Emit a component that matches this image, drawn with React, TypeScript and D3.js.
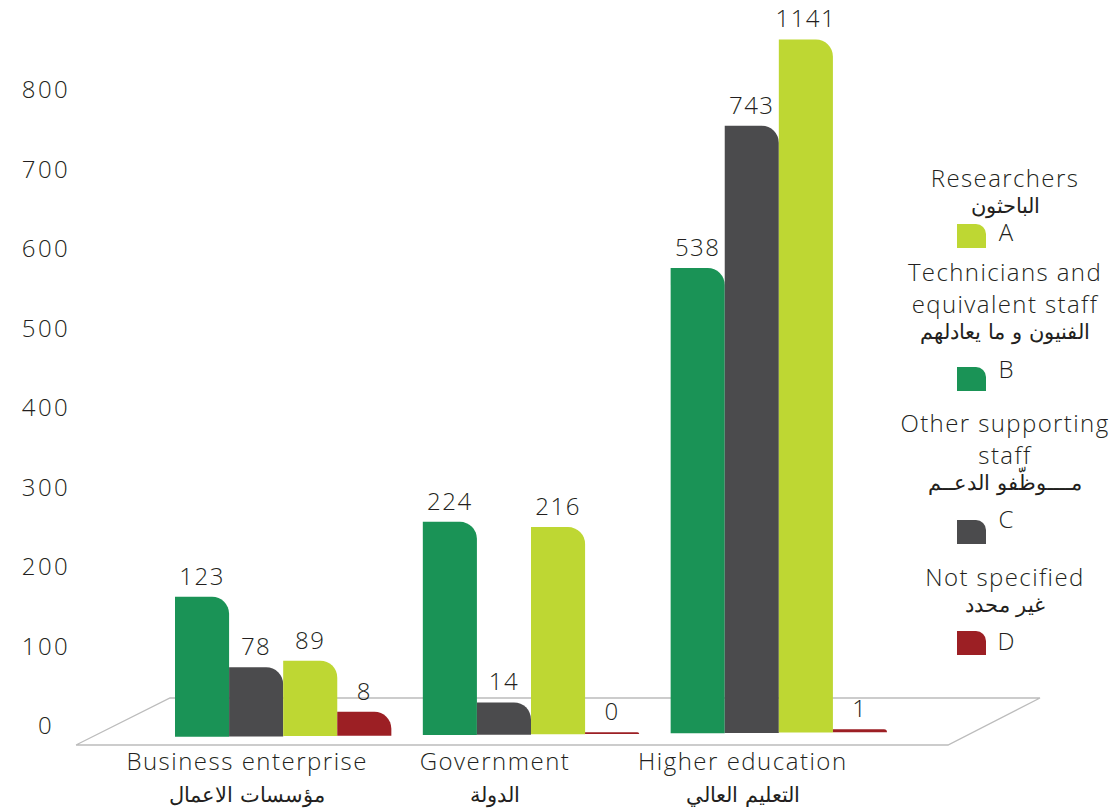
import React from "react";
import * as d3 from "d3";

// ---------- data ----------
const categories = ["Business enterprise", "Government", "Higher education"];
const categoriesAr = ["مؤسسات الاعمال", "الدولة", "التعليم العالي"];
// order of bars inside each group (left to right)
const seriesKeys = ["B", "C", "A", "D"];
const researchersA = [89, 216, 1141];
const techniciansB = [123, 224, 538];
const supportC = [78, 14, 743];
const notSpecifiedD = [8, 0, 1];
const yTicks = [0, 100, 200, 300, 400, 500, 600, 700, 800];

const legendKeys = ["A", "B", "C", "D"];
const legendEn = [["Researchers"], ["Technicians and", "equivalent staff"], ["Other supporting", "staff"], ["Not specified"]];
const legendAr = ["الباحثون", "الفنيون و ما يعادلهم", "مــــوظّفو الدعــم", "غير محدد"];

const colors: Record<string, string> = { A: "#bed733", B: "#1a9356", C: "#4b4b4d", D: "#9c1f24" };
const valuesByKey: Record<string, number[]> = { A: researchersA, B: techniciansB, C: supportC, D: notSpecifiedD };

// bar height calibration (the original infographic bars are not drawn to the axis)
const heightKnots = [0, 10, 90, 125, 220, 540, 750, 1150];
const heightPx = [0, 30, 76, 144, 210, 467, 612, 695];

const TEXT = "#231f20";
const FONT = "'Open Sans', 'DejaVu Sans', 'Noto Sans', sans-serif";
const FONT_AR = "'DejaVu Sans', 'Noto Sans', sans-serif";

function barPath(x: number, y: number, w: number, h: number, r: number) {
  const rr = Math.min(r, h, w);
  return `M${x},${y + h}V${y}H${x + w - rr}A${rr},${rr} 0 0 1 ${x + w},${y + rr}V${y + h}Z`;
}

export default function App() {
  const W = 1117, H = 811;
  const yAxis = d3.scaleLinear().domain([0, 800]).range([728, 92]);
  const barH = d3.scaleLinear().domain(heightKnots).range(heightPx);
  const x0 = d3.scaleBand<string>().domain(categories).range([175, 887]).paddingInner(0.127).paddingOuter(0);
  const x1 = d3.scaleBand<string>().domain(seriesKeys).range([0, x0.bandwidth()]).padding(0);
  const baseAt = d3.scaleLinear().domain([175, 887]).range([737, 732]);

  const floor = d3.line()([[76, 745], [948, 745], [1040, 698], [170, 698], [76, 745]]);

  const legendLayout = [
    { y: 187, swatch: 224, letter: 241 },
    { y: 281, swatch: 367, letter: 378 },
    { y: 432, swatch: 520, letter: 528 },
    { y: 586, swatch: 631, letter: 650 },
  ];

  return (
    <svg width={W} height={H} style={{ display: "block", position: "absolute", left: 0, top: 0 }} fontFamily={FONT}>
      <rect width={W} height={H} fill="#fff" />
      {/* y axis labels */}
      {yTicks.map((t) => (
        <text key={t} x={46} y={yAxis(t)} textAnchor="middle" dominantBaseline="middle" fontSize={24} fill={TEXT} fontWeight={300} letterSpacing={2.5}>
          {t}
        </text>
      ))}
      {/* floor */}
      <path d={floor || ""} fill="none" stroke="#bcbcbc" strokeWidth={1.3} />
      {/* bars */}
      {categories.map((c, ci) => (
        <g key={c}>
          {seriesKeys.map((k) => {
            const v = valuesByKey[k][ci];
            const x = (x0(c) as number) + (x1(k) as number);
            const w = x1.bandwidth();
            const base = baseAt(x + w / 2);
            const h = Math.max(barH(v), 1.8);
            const top = base - h;
            return (
              <g key={k}>
                <path d={barPath(x, top, w, h, 17)} fill={colors[k]} />
                <text x={x + w / 2} y={top - 12} textAnchor="middle" fontSize={24} fill={TEXT} fontWeight={300} letterSpacing={1.5}>
                  {v}
                </text>
              </g>
            );
          })}
          <text x={(x0(c) as number) + x0.bandwidth() / 2 - 36} y={770} textAnchor="middle" fontSize={24} fill={TEXT} fontWeight={300} letterSpacing={1.5}>
            {c}
          </text>
          <text x={(x0(c) as number) + x0.bandwidth() / 2 - 36} y={802} textAnchor="middle" fontSize={21} fill={TEXT} fontFamily={FONT_AR} fontWeight={300} direction="rtl">
            {categoriesAr[ci]}
          </text>
        </g>
      ))}
      {/* legend */}
      {legendKeys.map((k, i) => {
        const L = legendLayout[i];
        const lines = legendEn[i];
        return (
          <g key={k}>
            {lines.map((ln, j) => (
              <text key={j} x={1005} y={L.y + j * 32} textAnchor="middle" fontSize={24} fill={TEXT} fontWeight={300} letterSpacing={1.4}>
                {ln}
              </text>
            ))}
            <text x={1005} y={L.y + lines.length * 32 - 6} textAnchor="middle" fontSize={21} fill={TEXT} fontFamily={FONT_AR} fontWeight={300} direction="rtl">
              {legendAr[i]}
            </text>
            <path d={barPath(957, L.swatch, 29, 24, 10)} fill={colors[k]} />
            <text x={1006} y={L.letter} textAnchor="middle" fontSize={24} fill={TEXT} fontWeight={300}>
              {k}
            </text>
          </g>
        );
      })}
    </svg>
  );
}
